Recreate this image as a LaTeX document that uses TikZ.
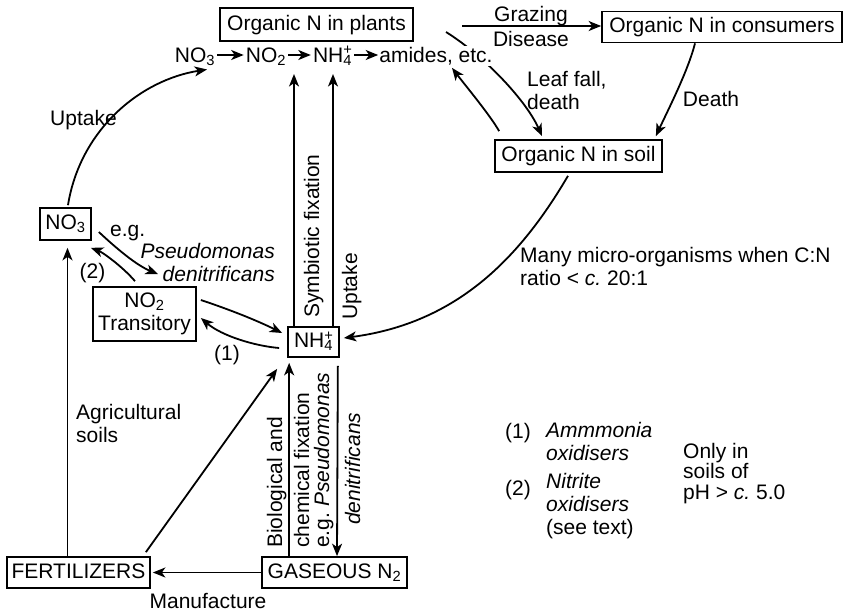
\documentclass[tikz,border=0pt]{standalone}
\usepackage{fontspec}
\setmainfont{Liberation Sans}
\usetikzlibrary{arrows.meta,backgrounds}
% subscript with a superscript stacked above it (ion charges)
\newcommand{\ionsub}[2]{\rlap{\textsuperscript{#2}}\textsubscript{#1}}
\newcommand{\diagfont}{\fontsize{21pt}{23pt}\selectfont}
\frenchspacing
\begin{document}
\begin{tikzpicture}[x=1pt,y=-1pt,
  font=\diagfont,
  box/.style={draw, line width=1.7pt, inner sep=0pt, text height=16pt, text depth=4.5pt},
  lbl/.style={inner sep=0pt},
  arr/.style={line width=1.8pt, -{Stealth[length=12.5pt,width=10pt,inset=3.5pt]}}
]
\useasboundingbox (0,0) rectangle (854,614);

% ---- pools of nitrogen ----
\node[box, minimum width=193pt, minimum height=33pt] (plants) at (316.5,24.5) {Organic N in plants};
\node[box, minimum width=240pt, minimum height=31pt] (cons) at (722,27) {Organic N in consumers};
\node[box, minimum width=167pt, minimum height=32pt] (soil) at (578.5,156) {Organic N in soil};
\node[box, minimum width=51pt, minimum height=32pt] (no3box) at (65.5,224) {NO\textsubscript{3}};
\node[draw, line width=1.7pt, inner sep=0pt, minimum width=103pt, minimum height=54pt, align=center] (no2box) at (144.5,314) {NO\textsubscript{2}\\Transitory};
\node[box, minimum width=51pt, minimum height=30pt] (nh4box) at (313.5,342) {NH\ionsub{4}{+}};
\node[box, minimum width=143pt, minimum height=31pt] (fert) at (78.5,572.5) {FERTILIZERS};
\node[box, minimum width=145pt, minimum height=31pt] (gas) at (334.5,572.5) {GASEOUS N\textsubscript{2}};

% ---- assimilation sequence inside the plant ----
\node[lbl, anchor=base] (r3) at (195,62) {NO\textsubscript{3}};
\node[lbl, anchor=base] (r2) at (266,62) {NO\textsubscript{2}};
\node[lbl, anchor=base] (r4) at (332.5,62) {NH\ionsub{4}{+}};
\node[lbl, anchor=base, fill=white, inner sep=1pt] (am) at (436,62) {amides, etc.};

% ---- process labels ----
\node[lbl, anchor=base] (graz) at (531,21) {Grazing};
\node[lbl, anchor=base] (dis) at (531,46) {Disease};
\node[lbl, anchor=north west, align=left] (leaf) at (527,71) {Leaf fall,\\death};
\node[lbl, anchor=base] (death) at (711,106) {Death};
\node[lbl, anchor=base west] (upt) at (50,125) {Uptake};
\node[lbl, anchor=base west] (eg) at (110,236) {e.g.};
\node[lbl, anchor=north east, align=right] (pseu) at (275,243) {\textit{Pseudomonas}\\\textit{denitrificans}};
\node[lbl, anchor=base] (p2) at (92.5,278) {(2)};
\node[lbl, anchor=base] (p1) at (227,360) {(1)};
\node[lbl, rotate=90, anchor=base west] (sym) at (319,318) {Symbiotic fixation};
\node[lbl, rotate=90, anchor=base west] (uptv) at (357,320) {Uptake};
\node[lbl, anchor=north west, align=left] (micro) at (520,247) {Many micro-organisms when C:N\\ratio < \textit{c.} 20:1};
\node[lbl, anchor=north west, align=left] (agri) at (76,404) {Agricultural\\soils};
\node[lbl, rotate=90, anchor=base west] (bio) at (282,548) {Biological and};
\node[lbl, rotate=90, anchor=base west] (chem) at (309,548) {chemical fixation};
\node[lbl, rotate=90, anchor=base west] (egp) at (329,548) {e.g. \textit{Pseudomonas}};
\node[lbl, rotate=90, anchor=base west] (den) at (360,525) {\textit{denitrificans}};
\node[lbl, anchor=base] (manu) at (208,608) {Manufacture};

% ---- key ----
\node[lbl, anchor=base west] (k1) at (505,438) {(1)};
\node[lbl, anchor=north west, align=left] (k1t) at (546,422) {\textit{Ammmonia}\\\textit{oxidisers}};
\node[lbl, anchor=base west] (k2) at (505,495) {(2)};
\node[lbl, anchor=north west, align=left] (k2t) at (546,473) {\textit{Nitrite}\\\textit{oxidisers}\\(see text)};
\node[lbl, anchor=north west, align=left, font=\fontsize{21pt}{20.5pt}\selectfont] (only) at (683,443) {Only in\\soils of\\pH > \textit{c.} 5.0};

% ---- free ends ----
\coordinate (gzs) at (462,26);
\coordinate (lfs) at (446,32);
\coordinate (symtip) at (294,74);
\coordinate (upttip) at (333,74);

\begin{pgfonlayer}{background}
% assimilation sequence
\draw[arr] ([xshift=2pt,yshift=7pt]r3.base east) -- ([xshift=-2pt,yshift=7pt]r2.base west);
\draw[arr] ([xshift=2pt,yshift=7pt]r2.base east) -- ([xshift=-2pt,yshift=7pt]r4.base west);
\draw[arr] ([xshift=2pt,yshift=7pt]r4.base east) -- ([yshift=7pt]am.base west);
% plants, consumers and soil
\draw[arr] (gzs) -- (gzs -| cons.west);
\draw[arr] (lfs) .. controls (486,57) and (527,102) .. ([xshift=-36.5pt,yshift=3pt]soil.north);
\draw[arr] ([xshift=5pt,yshift=8pt]soil.north west) .. controls (490,115) and (465,85) .. ([xshift=16pt,yshift=-2pt]am.south);
\draw[arr] ([xshift=-27pt]cons.south) .. controls (688,71) and (668,110) .. ([xshift=-7pt,yshift=3pt]soil.north east);
\draw[arr] ([xshift=-10.5pt,yshift=-3pt]soil.south) .. controls (520.5,256.7) and (458,323) .. ([xshift=4pt,yshift=4pt]nh4box.east);
% nitrate and nitrite
\draw[arr] ([xshift=2.5pt,yshift=2pt]no3box.north) .. controls (80,130) and (140,80) .. ([xshift=12pt,yshift=-4pt]r3.south);
\draw[arr, shorten >=7pt] ([xshift=2pt]no3box.south |- fert.north) -- ([xshift=2pt]no3box.south);
\draw[arr] ([xshift=7pt,yshift=-8pt]no3box.east) .. controls (116,248) and (136,265) .. ([xshift=13.5pt,yshift=12pt]no2box.north);
\draw[arr] ([xshift=-9.5pt,yshift=5pt]no2box.north) .. controls (122,266) and (102,252) .. ([xshift=-1pt,yshift=-7pt]no3box.south east);
\draw[arr] ([xshift=4pt,yshift=14pt]no2box.east) .. controls (228,309) and (256,320) .. ([xshift=-5pt,yshift=9pt]nh4box.west);
\draw[arr] ([xshift=-8pt,yshift=-6pt]nh4box.west) .. controls (255,346) and (222,336) .. ([xshift=4pt,yshift=-4pt]no2box.east);
% ammonium
\draw[arr] (symtip |- nh4box.north) -- (symtip);
\draw[arr] (upttip |- nh4box.north) -- (upttip);
\draw[arr] ([xshift=-5pt,yshift=4pt]fert.north east) -- ([xshift=-10pt,yshift=-11pt]nh4box.south west);
\draw[arr, shorten >=5pt] ([xshift=28pt]gas.north west) -- ([xshift=2pt]nh4box.south west);
\draw[arr] ([xshift=-2pt,yshift=-8pt]nh4box.south east) -- ([xshift=2.5pt]gas.north);
% industrial fixation
\draw[arr] (gas.west) -- ([xshift=2pt]fert.east);
\end{pgfonlayer}
\end{tikzpicture}
\end{document}
